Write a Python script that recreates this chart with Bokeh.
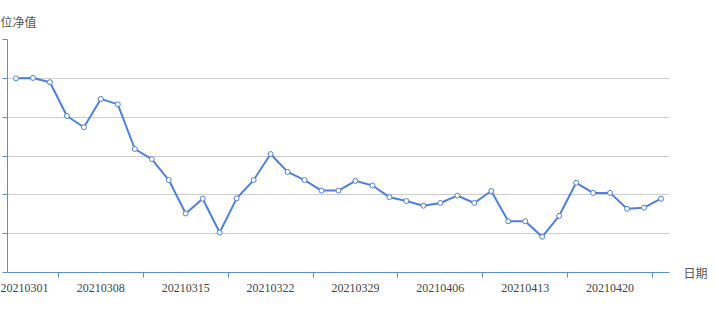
from bokeh.plotting import figure
from bokeh.models import FixedTicker, LinearAxis, ColumnDataSource, CustomJSTickFormatter
from bokeh.embed import file_html
from bokeh.resources import INLINE

dates = ["20210301", "20210302", "20210303", "20210304", "20210305",
         "20210308", "20210309", "20210310", "20210311", "20210312",
         "20210315", "20210316", "20210317", "20210318", "20210319",
         "20210322", "20210323", "20210324", "20210325", "20210326",
         "20210329", "20210330", "20210331", "20210401", "20210402",
         "20210406", "20210407", "20210408", "20210409",
         "20210412", "20210413", "20210414", "20210415", "20210416",
         "20210419", "20210420", "20210421", "20210422", "20210423"]
nav = [1.5000, 1.5002, 1.4980, 1.4806, 1.4748,
       1.4894, 1.4866, 1.4636, 1.4584, 1.4476,
       1.4304, 1.4380, 1.4206, 1.4382, 1.4476,
       1.4610, 1.4518, 1.4476, 1.4422, 1.4422,
       1.4472, 1.4448, 1.4388, 1.4368, 1.4344,
       1.4358, 1.4396, 1.4358, 1.4420,
       1.4264, 1.4264, 1.4184, 1.4292, 1.4462,
       1.4410, 1.4410, 1.4328, 1.4334, 1.4380]
y_ticks = [1.40, 1.42, 1.44, 1.46, 1.48, 1.50, 1.52]
y_name = "位净值"
x_name = "日期"

idx = list(range(len(dates)))
src = ColumnDataSource(dict(x=idx, y=nav, d=dates))

AXIS = "#5B8FC9"
LINE = "#4F7FDC"

p = figure(width=717, height=314, output_backend="svg", toolbar_location=None,
           x_range=(-0.5, len(dates) - 0.5), y_range=(y_ticks[0], y_ticks[-1]),
           min_border_left=7, min_border_right=48, min_border_top=38, min_border_bottom=42)
p.outline_line_color = None
p.background_fill_color = "white"

# title (axis name of the y axis)
p.title.text = y_name
p.title.align = "left"
p.title.offset = -7
p.title.text_font = "Noto Sans CJK SC"
p.title.text_font_size = "12px"
p.title.text_font_style = "normal"
p.title.text_color = "#555555"
p.title.standoff = 20

# x axis
label_idx = idx[::5]
boundary = [i + 2.5 for i in label_idx if i + 2.5 < len(dates) - 0.5]
p.xaxis.ticker = FixedTicker(ticks=label_idx, minor_ticks=boundary)
p.xaxis.major_label_overrides = {i: dates[i] for i in label_idx}
p.xaxis.major_tick_out = 0
p.xaxis.major_tick_in = 0
p.xaxis.minor_tick_out = 5
p.xaxis.minor_tick_in = 0
p.xaxis.minor_tick_line_color = AXIS
p.xaxis.axis_line_color = AXIS
p.xaxis.axis_line_width = 1
p.xaxis.major_label_standoff = 6
p.xaxis.major_label_text_font = "Liberation Serif"
p.xaxis.major_label_text_font_size = "12px"
p.xaxis.major_label_text_color = "#444444"
p.xgrid.grid_line_color = None

# y axis
p.yaxis.ticker = FixedTicker(ticks=y_ticks, minor_ticks=[])
p.yaxis.formatter = CustomJSTickFormatter(code="return '';")
p.yaxis.major_label_standoff = 0
p.yaxis.major_tick_out = 5
p.yaxis.major_tick_in = 0
p.yaxis.major_tick_line_color = AXIS
p.yaxis.axis_line_color = AXIS
p.ygrid.grid_line_color = "#cccccc"
p.ygrid.ticker = FixedTicker(ticks=y_ticks)

# axis name of the x axis, at the end of the axis
name_axis = LinearAxis(ticker=FixedTicker(ticks=[y_ticks[0]], minor_ticks=[]),
                       major_label_overrides={y_ticks[0]: x_name})
name_axis.axis_line_color = None
name_axis.major_tick_line_color = None
name_axis.major_tick_out = 0
name_axis.major_tick_in = 0
name_axis.major_label_standoff = 14
name_axis.major_label_text_font = "Noto Sans CJK SC"
name_axis.major_label_text_font_size = "12px"
name_axis.major_label_text_color = "#555555"
p.add_layout(name_axis, "right")

p.line("x", "y", source=src, line_color=LINE, line_width=2)
p.scatter("x", "y", source=src, size=5, marker="circle", fill_color="white",
          line_color=LINE, line_width=1)

open("out.html", "w").write(file_html(p, INLINE))
